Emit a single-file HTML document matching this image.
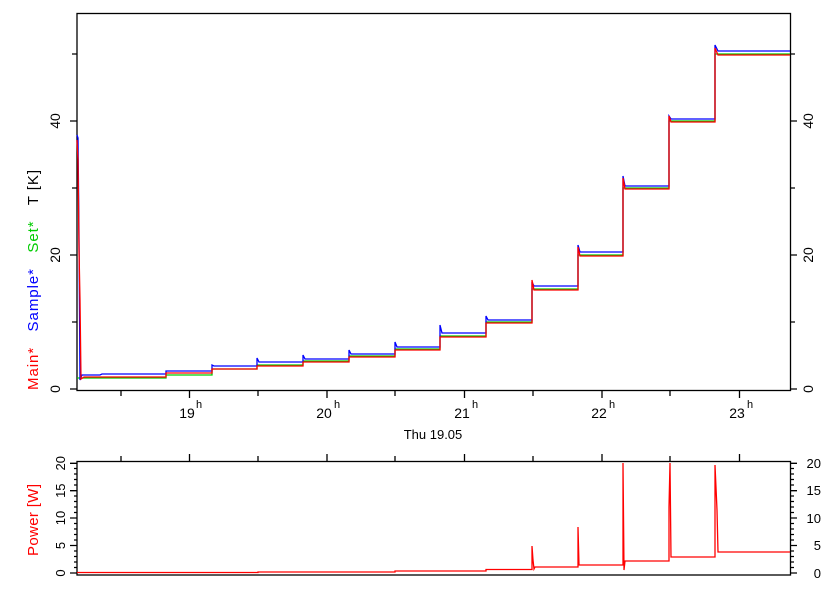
<!DOCTYPE html>
<html><head><style>body{margin:0;background:#fff}svg{display:block}</style></head><body>
<svg width="840" height="600" xmlns="http://www.w3.org/2000/svg" font-family="Liberation Sans, sans-serif">
<rect width="840" height="600" fill="#fff"/>
<g fill="none" stroke="#000" stroke-width="1.3">
<rect x="77" y="13.5" width="713.5" height="377"/>
<path d="M70 389H77M70 255H77M70 121H77M72 322H77M72 188H77M72 54H77M790.5 389H797M790.5 255H797M790.5 121H797M790.5 322H795M790.5 188H795M790.5 54H795"/>
<path d="M121 390.5V396M189.5 390.5V398M258 390.5V396M327 390.5V398M395 390.5V396M464.5 390.5V398M533 390.5V396M602 390.5V398M670 390.5V396M739.5 390.5V398"/>
<rect x="77" y="461.5" width="713.5" height="113.5"/>
<path d="M121 461.5V456M189.5 461.5V454M258 461.5V456M327 461.5V454M395 461.5V456M464.5 461.5V454M533 461.5V456M602 461.5V454M670 461.5V456M739.5 461.5V454"/>
<path d="M70 573H77M70 545.5H77M70 518H77M70 490.7H77M70 463.3H77M790.5 573H797M790.5 545.5H797M790.5 518H797M790.5 490.7H797M790.5 463.3H797"/>
<path d="M74 567.5H77M74 562H77M74 556.5H77M74 551H77M74 540H77M74 534.5H77M74 529H77M74 523.5H77M74 512.5H77M74 507H77M74 501.5H77M74 496H77M74 485H77M74 479.5H77M74 474H77M74 468.5H77M790.5 567.5H794M790.5 562H794M790.5 556.5H794M790.5 551H794M790.5 540H794M790.5 534.5H794M790.5 529H794M790.5 523.5H794M790.5 512.5H794M790.5 507H794M790.5 501.5H794M790.5 496H794M790.5 485H794M790.5 479.5H794M790.5 474H794M790.5 468.5H794"/>
</g>
<g font-size="14" fill="#000">
<text transform="translate(60,389) rotate(-90)" text-anchor="middle">0</text>
<text transform="translate(60,255) rotate(-90)" text-anchor="middle">20</text>
<text transform="translate(60,121) rotate(-90)" text-anchor="middle">40</text>
<text transform="translate(813,389) rotate(-90)" text-anchor="middle">0</text>
<text transform="translate(813,255) rotate(-90)" text-anchor="middle">20</text>
<text transform="translate(813,121) rotate(-90)" text-anchor="middle">40</text>
<text x="187" y="418" text-anchor="middle">19</text><text x="196" y="408" font-size="11">h</text>
<text x="324" y="418" text-anchor="middle">20</text><text x="334" y="408" font-size="11">h</text>
<text x="462" y="418" text-anchor="middle">21</text><text x="472" y="408" font-size="11">h</text>
<text x="599" y="418" text-anchor="middle">22</text><text x="609" y="408" font-size="11">h</text>
<text x="737" y="418" text-anchor="middle">23</text><text x="747" y="408" font-size="11">h</text>
<text x="433" y="439" text-anchor="middle" font-size="13">Thu 19.05</text>
<text transform="translate(65,573) rotate(-90)" text-anchor="middle" font-size="13">0</text>
<text transform="translate(65,545.5) rotate(-90)" text-anchor="middle" font-size="13">5</text>
<text transform="translate(65,518) rotate(-90)" text-anchor="middle" font-size="13">10</text>
<text transform="translate(65,490.7) rotate(-90)" text-anchor="middle" font-size="13">15</text>
<text transform="translate(65,463.3) rotate(-90)" text-anchor="middle" font-size="13">20</text>
<g font-size="13" text-anchor="end"><text x="821" y="578">0</text><text x="821" y="550">5</text><text x="821" y="523">10</text><text x="821" y="495">15</text><text x="821" y="468">20</text></g>
<text transform="translate(38,390) rotate(-90)" font-size="15" textLength="220" lengthAdjust="spacing" xml:space="preserve"><tspan fill="#f00">Main*</tspan>   <tspan fill="#00f">Sample*</tspan>   <tspan fill="#0c0">Set*</tspan>   <tspan fill="#000">T [K]</tspan></text>
<text transform="translate(38,556) rotate(-90)" font-size="15" fill="#f00" textLength="72" lengthAdjust="spacing">Power [W]</text>
</g>
<g fill="none" stroke-width="1.3">
<polyline stroke="#0c0" points="77,378 166,378 166,375 212,375 212,369 257,369 257,365 303,365 303,361 349,361 349,356 395,356 395,349 440,349 440,336 486,336 486,322 532,322 532,289 578,289 578,255 623,255 623,188 669,188 669,121 715,121 715,54 790,54"/>
<polyline stroke="#00f" points="77,135 78,138 79,235 80,380 82,375 100,375 102,374 166,374 166,371 212,371 212,365 214,366 257,366 257,358 259,362 303,362 303,355 305,359 349,359 349,350 351,354 395,354 395,342 397,347 440,347 440,325 442,333 486,333 486,316 488,320 532,320 532,282 534,286 578,286 578,245 580,252 623,252 623,176 625,186 669,186 669,116 671,119 715,119 715,45 718,51 790,51"/>
<polyline stroke="#f00" points="77,140 78,160 79,250 80,300 81,379 84,377 166,377 166,373 212,373 212,369 257,369 257,366 303,366 303,362 349,362 349,357 395,357 395,350 440,350 440,337 486,337 486,323 532,323 532,280 534,290 578,290 578,247 580,256 623,256 623,178 625,189 669,189 669,116 671,122 715,122 715,48 718,55 790,55"/>
<polyline stroke="#f00" points="77,572.5 258,572.5 258,572 395,572 395,571 486,571 486,569.5 532,569.5 532,546 533,560 534,569 535,567 578,567 578,527 579,565 623,565 623,463 624,570 625,561 669,561 669,507 670,463 671,557 715,557 715,465 717,510 718,552 790,552"/>
</g>
</svg>
</body></html>
